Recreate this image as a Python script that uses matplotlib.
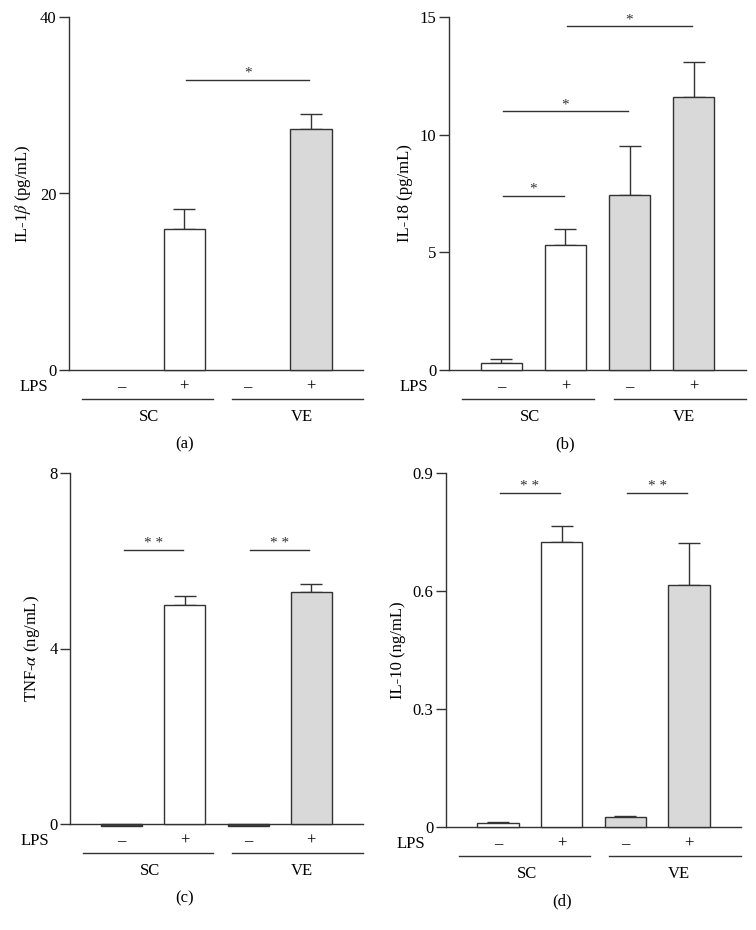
import matplotlib
matplotlib.use("Agg")
import matplotlib.pyplot as plt

plt.rcParams['font.family'] = ['Liberation Serif', 'DejaVu Serif']
plt.rcParams['mathtext.fontset'] = 'stix'

# ---- data ----
lps_labels = ['–', '+', '–', '+']
group_labels = ['SC', 'VE']

il1b_mean = [0.0, 16.0, 0.0, 27.3]
il1b_err = [0.0, 2.2, 0.0, 1.7]

il18_mean = [0.3, 5.3, 7.45, 11.6]
il18_err = [0.17, 0.7, 2.05, 1.5]

tnf_mean = [-0.05, 4.99, -0.05, 5.29]
tnf_err = [0.0, 0.2, 0.0, 0.18]

il10_mean = [0.010, 0.725, 0.025, 0.614]
il10_err = [0.003, 0.039, 0.002, 0.107]

# significance: (x1, x2, y, text)
sig_a = [(1, 3, 32.9, '*')]
sig_b = [(0, 1, 7.4, '*'), (0, 2, 11.0, '*'), (1, 3, 14.6, '*')]
sig_c = [(0, 1, 6.25, '* *'), (2, 3, 6.25, '* *')]
sig_d = [(0, 1, 0.85, '* *'), (2, 3, 0.85, '* *')]

panels = [
    dict(box=(69, 17, 363, 370), mean=il1b_mean, err=il1b_err, ylim=40, ticks=[0, 20, 40],
         ticklabels=['0', '20', '40'], ylabel=r'IL-1$\beta$ (pg/mL)', sig=sig_a, tag='(a)'),
    dict(box=(449, 17, 746, 370), mean=il18_mean, err=il18_err, ylim=15, ticks=[0, 5, 10, 15],
         ticklabels=['0', '5', '10', '15'], ylabel='IL-18 (pg/mL)', sig=sig_b, tag='(b)'),
    dict(box=(70, 473, 363, 824), mean=tnf_mean, err=tnf_err, ylim=8, ticks=[0, 4, 8],
         ticklabels=['0', '4', '8'], ylabel=r'TNF-$\alpha$ (ng/mL)', sig=sig_c, tag='(c)'),
    dict(box=(446, 473, 741, 827), mean=il10_mean, err=il10_err, ylim=0.9, ticks=[0, 0.3, 0.6, 0.9],
         ticklabels=['0', '0.3', '0.6', '0.9'], ylabel='IL-10 (ng/mL)', sig=sig_d, tag='(d)'),
]

W, H = 756, 930
fig = plt.figure(figsize=(W / 100, H / 100), dpi=100)
edge = '#333333'
fills = ['white', 'white', '#d9d9d9', '#d9d9d9']
xs = [0, 1, 2, 3]
FS = 12

for p in panels:
    l, t, r, b = p['box']
    ax = fig.add_axes([l / W, 1 - b / H, (r - l) / W, (b - t) / H])
    hpx = b - t
    ecs = [edge if v != 0 else 'none' for v in p['mean']]
    fcs = [f if v >= 0 else '#444444' for f, v in zip(fills, p['mean'])]
    bars = ax.bar(xs, p['mean'], width=0.65, color=fcs, edgecolor=ecs, linewidth=1.0, zorder=2)
    for bb in bars:
        bb.set_clip_on(False)
    has_err = [i for i, e in enumerate(p['err']) if e > 0]
    ax.errorbar([xs[i] for i in has_err], [p['mean'][i] for i in has_err],
                yerr=[[0] * len(has_err), [p['err'][i] for i in has_err]], fmt='none', ecolor=edge,
                elinewidth=1.0, capsize=8, capthick=1.0, zorder=1)
    ax.set_xlim(-0.82, 3.82)
    ax.set_ylim(0, p['ylim'])
    ax.set_yticks(p['ticks'])
    ax.set_yticklabels(p['ticklabels'], fontsize=FS)
    ax.set_xticks([])
    for s in ['top', 'right']:
        ax.spines[s].set_visible(False)
    for s in ['left', 'bottom']:
        ax.spines[s].set_color(edge)
        ax.spines[s].set_linewidth(1.0)
    ax.spines['bottom'].set_zorder(1)
    ax.tick_params(axis='y', direction='out', length=7, width=1.0, color=edge, pad=2)
    ax.set_ylabel(p['ylabel'], fontsize=FS, labelpad=5)

    trans = ax.get_xaxis_transform()
    # LPS row
    y_lps = -17 / hpx
    ax.text(-1.15, y_lps, 'LPS', transform=trans, ha='right', va='center', fontsize=FS)
    for x, lab in zip(xs, lps_labels):
        ax.text(x, y_lps, lab, transform=trans, ha='center', va='center', fontsize=FS)
    # group lines
    y_gl = -29 / hpx
    ax.plot([-0.62, 1.45], [y_gl, y_gl], transform=trans, color=edge, lw=1.0, clip_on=False)
    ax.plot([1.75, 3.82], [y_gl, y_gl], transform=trans, color=edge, lw=1.0, clip_on=False)
    y_grp = -47 / hpx
    ax.text(0.45, y_grp, group_labels[0], transform=trans, ha='center', va='center', fontsize=FS)
    ax.text(2.85, y_grp, group_labels[1], transform=trans, ha='center', va='center', fontsize=FS)
    ax.text(1.0, -74 / hpx, p['tag'], transform=trans, ha='center', va='center', fontsize=FS)

    # significance
    for x1, x2, y, txt in p['sig']:
        ax.plot([x1 + 0.03, x2 - 0.03], [y, y], color=edge, lw=1.0, clip_on=False)
        ax.text((x1 + x2) / 2, y, txt, ha='center', va='bottom', fontsize=11, color='#333333')

fig.savefig('out.png', dpi=100)
